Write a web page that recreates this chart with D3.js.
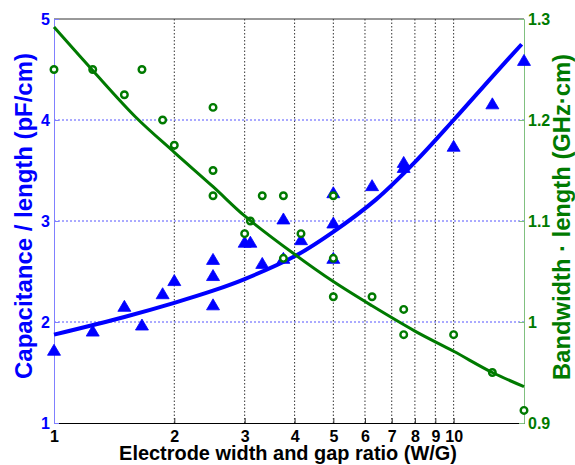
<!DOCTYPE html>
<html>
<head>
<meta charset="utf-8">
<script src="https://cdn.jsdelivr.net/npm/d3@7"></script>
<style>
  body { margin: 0; background: #fff; }
  text { font-family: "Liberation Sans", Arial, sans-serif; font-weight: bold; }
</style>
</head>
<body>
<div id="chart"></div>
<script>
// measured points (W/G ratio, capacitance pF/cm, bandwidth GHz*cm)
var ratio = [1, 1.25, 1.5, 1.66, 1.87, 2, 2.5, 2.5, 2.5, 3, 3.1, 3.32,
             3.75, 3.75, 4.15, 5, 5, 5, 6.25, 7.5, 7.5, 10, 12.5, 15];
var capacitance = [1.72, 1.91, 2.155, 1.97, 2.28, 2.41, 2.62, 2.46, 2.17, 2.79, 2.79, 2.58,
                   3.02, 2.63, 2.815, 3.28, 2.98, 2.63, 3.35, 3.58, 3.53, 3.74, 4.16, 4.59];
var bandwidth = [1.25, 1.25, 1.225, 1.25, 1.2, 1.175, 1.2125, 1.15, 1.125, 1.0875, 1.1, 1.125,
                 1.125, 1.063, 1.0875, 1.125, 1.063, 1.025, 1.025, 1.0125, 0.9875, 0.9875, 0.95, 0.9125];

// fitted curves
var capFitRatio = [1, 1.5, 2, 2.5, 3, 4, 5, 6.4, 8, 10, 12.5, 14.8];
var capFit = [1.875, 2.05, 2.19, 2.31, 2.425, 2.65, 2.893, 3.214, 3.583, 4.0, 4.43, 4.75];
var bwFitRatio = [1, 1.25, 1.6, 2, 2.5, 3, 4, 5, 6.25, 8, 10, 12.5, 15];
var bwFit = [1.292, 1.249, 1.203, 1.168, 1.134, 1.105, 1.067, 1.040, 1.016, 0.991, 0.971, 0.950, 0.936];

var xTicks = [1, 2, 3, 4, 5, 6, 7, 8, 9, 10];
var capTicks = [1, 2, 3, 4, 5];
var bwTicks = [0.9, 1, 1.1, 1.2, 1.3];
var capGrid = [2, 3, 4];
var xGrid = [2, 3, 4, 5, 6, 7, 8, 9, 10];

var margin = {top: 19, right: 51, bottom: 42, left: 54},
    width = 575 - margin.left - margin.right,
    height = 465 - margin.top - margin.bottom;

var blue = '#0000ff', green = '#007a00';

var svg = d3.select('#chart').append('svg')
    .attr('width', 575)
    .attr('height', 465);
var g = svg.append('g')
    .attr('transform', 'translate(' + margin.left + ',' + margin.top + ')');

var x = d3.scaleLog().domain([1, 15]).range([0, width]);
var yL = d3.scaleLinear().domain([1, 5]).range([height, 0]);
var yR = d3.scaleLinear().domain([0.9, 1.3]).range([height, 0]);

// grid
g.selectAll('.vgrid').data(xGrid).enter().append('line')
    .attr('x1', d => x(d)).attr('x2', d => x(d))
    .attr('y1', 0).attr('y2', height)
    .attr('stroke', '#333').attr('stroke-width', 1)
    .attr('stroke-dasharray', '1.5,2');
g.selectAll('.hgrid').data(capGrid).enter().append('line')
    .attr('x1', 0).attr('x2', width)
    .attr('y1', d => yL(d)).attr('y2', d => yL(d))
    .attr('stroke', '#5555ff').attr('stroke-width', 1)
    .attr('stroke-dasharray', '2,2');

// frame top
g.append('line').attr('x1', 0).attr('x2', width).attr('y1', 0).attr('y2', 0)
    .attr('stroke', '#333').attr('stroke-width', 1);

function styleTicks(ax, col) {
  ax.attr('font-size', 16).attr('font-family', null);
  ax.selectAll('text').style('font-size', '16px').attr('fill', col);
}

// bottom axis
var xAxis = g.append('g')
    .attr('transform', 'translate(0,' + height + ')')
    .call(d3.axisBottom(x).tickValues(xTicks).tickFormat(d3.format('d'))
        .tickSize(-5).tickPadding(8));
xAxis.select('.domain').attr('stroke', '#000');
xAxis.selectAll('.tick line').attr('stroke', '#333');
styleTicks(xAxis, '#000');

// left axis
var lAxis = g.append('g')
    .call(d3.axisLeft(yL).tickValues(capTicks).tickFormat(d3.format('d'))
        .tickSize(-5).tickPadding(4));
lAxis.select('.domain').attr('stroke', '#8080ff');
lAxis.selectAll('.tick line').attr('stroke', '#8080ff');
styleTicks(lAxis, blue);

// right axis
var rAxis = g.append('g')
    .attr('transform', 'translate(' + width + ',0)')
    .call(d3.axisRight(yR).tickValues(bwTicks).tickFormat(d => String(+d.toFixed(1)))
        .tickSize(-5).tickPadding(4));
rAxis.select('.domain').attr('stroke', '#80c080');
rAxis.selectAll('.tick line').attr('stroke', '#80c080');
styleTicks(rAxis, green);

// capacitance: triangles + fit
var capPts = ratio.map((r, i) => [r, capacitance[i]]);
g.selectAll('.tri').data(capPts).enter().append('path')
    .attr('d', 'M0,-6L6.5,5L-6.5,5Z')
    .attr('transform', d => 'translate(' + x(d[0]) + ',' + yL(d[1]) + ')')
    .attr('fill', blue).attr('stroke', blue).attr('stroke-width', 0.8);

var capLine = d3.line()
    .x(d => x(d[0])).y(d => yL(d[1]))
    .curve(d3.curveCatmullRom);
g.append('path')
    .datum(capFitRatio.map((r, i) => [r, capFit[i]]))
    .attr('d', capLine)
    .attr('fill', 'none').attr('stroke', blue).attr('stroke-width', 4);

// bandwidth: circles + fit
var bwPts = ratio.map((r, i) => [r, bandwidth[i]]);
g.selectAll('.circ').data(bwPts).enter().append('circle')
    .attr('cx', d => x(d[0])).attr('cy', d => yR(d[1]))
    .attr('r', 3.3)
    .attr('fill', '#fff').attr('stroke', green).attr('stroke-width', 2.4);

var bwLine = d3.line()
    .x(d => x(d[0])).y(d => yR(d[1]))
    .curve(d3.curveCatmullRom);
g.append('path')
    .datum(bwFitRatio.map((r, i) => [r, bwFit[i]]))
    .attr('d', bwLine)
    .attr('fill', 'none').attr('stroke', green).attr('stroke-width', 3);

// titles, sized to the span they take in the original
function fitText(t, target) {
  t.style('font-size', '20px');
  var len = t.node().getComputedTextLength();
  t.style('font-size', (20 * target / len) + 'px');
}

var xt = svg.append('text')
    .attr('x', 288).attr('y', 460)
    .attr('text-anchor', 'middle').attr('fill', '#000')
    .text('Electrode width and gap ratio (W/G)');
fitText(xt, 338);

var lt = svg.append('text')
    .attr('transform', 'translate(32,216) rotate(-90)')
    .attr('text-anchor', 'middle').attr('fill', blue)
    .text('Capacitance / length (pF/cm)');
fitText(lt, 326);

var rt = svg.append('text')
    .attr('transform', 'translate(570,217) rotate(-90)')
    .attr('text-anchor', 'middle').attr('fill', green)
    .text('Bandwidth \u00b7 length (GHz\u00b7cm)');
fitText(rt, 326);
</script>
</body>
</html>
